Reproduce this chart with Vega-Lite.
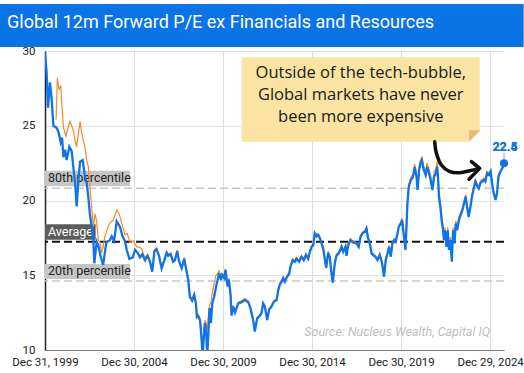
{
  "$schema": "https://vega.github.io/schema/vega-lite/v6.json",
  "padding": {"top": 4, "left": 0, "right": 0, "bottom": 0},
  "background": "white",
  "width": 459,
  "height": 299,
  "config": {"view": {"stroke": null}, "font": "Roboto"},
  "data": {"values": [{"k": 1}]},
  "datasets": {
    "pe": [
      {"d": "1999-12-31", "b": 29.9},
      {"d": "2000-02-03", "b": 28.5},
      {"d": "2000-03-02", "b": 26.2},
      {"d": "2000-04-11", "b": 27.9},
      {"d": "2000-05-17", "b": 26.7},
      {"d": "2000-06-20", "b": 25.0},
      {"d": "2000-08-14", "o": 25.4},
      {"d": "2000-08-28", "b": 24.85},
      {"d": "2000-09-09", "o": 28.2},
      {"d": "2000-10-01", "b": 24.6},
      {"d": "2000-10-15", "o": 27.4},
      {"d": "2000-11-17", "b": 23.9, "o": 27.7},
      {"d": "2000-12-10", "o": 26.5},
      {"d": "2000-12-16", "b": 24.2},
      {"d": "2001-01-11", "b": 22.9, "o": 24.9},
      {"d": "2001-02-16", "b": 23.4},
      {"d": "2001-03-04", "o": 24.3},
      {"d": "2001-03-19", "b": 22.7},
      {"d": "2001-04-21", "o": 24.9},
      {"d": "2001-05-13", "b": 23.6},
      {"d": "2001-05-28", "o": 25.3},
      {"d": "2001-06-30", "b": 23.3, "o": 25.0},
      {"d": "2001-08-02", "b": 22.26, "o": 24.7},
      {"d": "2001-09-08", "b": 21.2, "o": 24.0},
      {"d": "2001-10-10", "b": 19.6, "o": 23.6},
      {"d": "2001-11-16", "b": 21.4, "o": 24.5},
      {"d": "2001-12-19", "b": 22.6, "o": 25.3},
      {"d": "2002-01-23", "o": 24.5},
      {"d": "2002-02-11", "b": 22.7},
      {"d": "2002-02-25", "o": 24.0},
      {"d": "2002-03-29", "b": 21.6, "o": 23.6},
      {"d": "2002-05-04", "b": 21.2, "o": 22.7},
      {"d": "2002-06-06", "b": 20.25, "o": 22.26},
      {"d": "2002-07-08", "b": 19.1, "o": 20.9},
      {"d": "2002-08-14", "b": 18.25, "o": 19.6},
      {"d": "2002-09-17", "b": 17.35, "o": 18.25},
      {"d": "2002-10-08", "b": 15.8},
      {"d": "2002-10-23", "o": 19.1},
      {"d": "2002-11-25", "b": 17.25, "o": 18.6},
      {"d": "2002-12-28", "b": 17.0, "o": 17.35},
      {"d": "2003-02-03", "o": 17.2},
      {"d": "2003-02-17", "b": 16.2},
      {"d": "2003-03-05", "o": 16.5},
      {"d": "2003-04-07", "b": 15.7, "o": 16.9},
      {"d": "2003-05-11", "b": 16.5, "o": 17.6},
      {"d": "2003-06-11", "b": 17.2},
      {"d": "2003-07-18", "o": 18.25},
      {"d": "2003-08-24", "b": 17.35, "o": 18.5},
      {"d": "2003-09-30", "b": 17.6},
      {"d": "2003-11-03", "o": 18.7},
      {"d": "2003-11-17", "b": 17.3},
      {"d": "2004-01-10", "b": 18.6, "o": 19.36},
      {"d": "2004-03-01", "o": 19.1},
      {"d": "2004-03-15", "b": 18.25},
      {"d": "2004-04-21", "o": 18.5},
      {"d": "2004-05-09", "b": 17.6},
      {"d": "2004-06-26", "b": 17.3, "o": 17.7},
      {"d": "2004-08-02", "b": 16.7},
      {"d": "2004-08-12", "o": 17.8},
      {"d": "2004-09-26", "b": 16.1},
      {"d": "2004-10-10", "o": 17.2},
      {"d": "2004-12-04", "b": 16.2},
      {"d": "2004-12-15", "o": 17.3},
      {"d": "2005-01-20", "b": 16.7},
      {"d": "2005-02-22", "o": 16.9},
      {"d": "2005-03-14", "b": 16.5},
      {"d": "2005-04-01", "o": 16.9},
      {"d": "2005-05-01", "b": 16.2},
      {"d": "2005-06-05", "o": 16.8},
      {"d": "2005-06-18", "b": 16.4, "o": 16.6},
      {"d": "2005-08-11", "b": 16.0, "o": 16.2},
      {"d": "2005-10-05", "b": 16.3, "o": 16.4},
      {"d": "2005-11-22", "b": 15.9, "o": 16.0},
      {"d": "2006-01-08", "b": 15.24, "o": 15.35},
      {"d": "2006-02-21", "b": 16.6, "o": 16.7},
      {"d": "2006-04-08", "b": 16.73, "o": 16.85},
      {"d": "2006-05-26", "b": 16.3, "o": 16.4},
      {"d": "2006-07-19", "b": 15.46, "o": 15.55},
      {"d": "2006-09-13", "b": 16.0, "o": 16.1},
      {"d": "2006-10-31", "b": 16.5, "o": 16.6},
      {"d": "2006-12-02", "b": 16.3, "o": 16.4},
      {"d": "2007-01-20", "b": 16.4, "o": 16.5},
      {"d": "2007-03-11", "b": 15.9, "o": 16.0},
      {"d": "2007-04-17", "b": 16.0, "o": 16.1},
      {"d": "2007-06-04", "b": 16.6, "o": 16.7},
      {"d": "2007-07-13", "b": 15.9, "o": 16.0},
      {"d": "2007-09-04", "b": 15.46, "o": 15.55},
      {"d": "2007-10-25", "b": 16.1, "o": 16.2},
      {"d": "2007-12-14", "b": 15.24, "o": 15.3},
      {"d": "2008-01-16", "b": 14.68, "o": 14.8},
      {"d": "2008-02-18", "b": 13.56, "o": 13.7},
      {"d": "2008-04-05", "b": 13.3, "o": 13.4},
      {"d": "2008-05-18", "b": 13.68, "o": 13.8},
      {"d": "2008-06-21", "b": 13.1, "o": 13.2},
      {"d": "2008-07-12", "b": 12.2, "o": 12.35},
      {"d": "2008-08-07", "b": 12.25, "o": 12.4},
      {"d": "2008-09-13", "b": 12.0, "o": 12.15},
      {"d": "2008-10-01", "b": 11.34, "o": 11.6},
      {"d": "2008-10-16", "b": 10.67, "o": 11.0},
      {"d": "2008-11-07", "b": 9.6, "o": 10.3},
      {"d": "2008-12-03", "b": 11.0, "o": 11.4},
      {"d": "2008-12-24", "b": 11.8, "o": 12.0},
      {"d": "2009-01-15", "b": 11.2, "o": 11.8},
      {"d": "2009-02-10", "b": 9.7, "o": 11.3},
      {"d": "2009-03-02", "b": 11.0, "o": 12.2},
      {"d": "2009-03-28", "b": 12.8, "o": 13.0},
      {"d": "2009-04-26", "b": 11.8, "o": 13.2},
      {"d": "2009-05-22", "b": 13.1, "o": 13.8},
      {"d": "2009-06-30", "b": 13.56, "o": 14.4},
      {"d": "2009-08-06", "b": 14.2, "o": 15.0},
      {"d": "2009-09-09", "b": 14.68, "o": 15.1},
      {"d": "2009-10-11", "b": 15.13, "o": 15.3},
      {"d": "2009-11-17", "b": 14.68, "o": 14.8},
      {"d": "2009-12-12", "b": 15.02, "o": 15.1},
      {"d": "2010-01-26", "b": 14.8, "o": 14.9},
      {"d": "2010-02-18", "b": 15.35, "o": 15.45},
      {"d": "2010-04-03", "b": 14.24, "o": 14.35},
      {"d": "2010-04-29", "b": 14.7, "o": 14.8},
      {"d": "2010-06-04", "b": 13.6, "o": 13.7},
      {"d": "2010-06-22", "b": 12.3, "o": 12.4},
      {"d": "2010-07-26", "b": 12.9, "o": 13.0},
      {"d": "2010-09-01", "b": 12.5, "o": 12.6},
      {"d": "2010-11-05", "b": 13.1, "o": 13.2},
      {"d": "2011-01-16", "b": 13.2, "o": 13.3},
      {"d": "2011-03-21", "b": 13.34, "o": 13.45},
      {"d": "2011-05-30", "b": 13.2, "o": 13.3},
      {"d": "2011-07-15", "b": 12.8, "o": 12.9},
      {"d": "2011-09-09", "b": 12.0, "o": 12.1},
      {"d": "2011-10-12", "b": 11.23, "o": 11.35},
      {"d": "2011-11-29", "b": 12.1, "o": 12.2},
      {"d": "2012-01-11", "b": 12.23, "o": 12.3},
      {"d": "2012-02-27", "b": 12.45, "o": 12.55},
      {"d": "2012-03-31", "b": 13.1, "o": 13.2},
      {"d": "2012-05-06", "b": 12.9, "o": 13.0},
      {"d": "2012-06-23", "b": 12.0, "o": 12.1},
      {"d": "2012-08-02", "b": 12.7, "o": 12.8},
      {"d": "2012-09-19", "b": 12.9, "o": 13.0},
      {"d": "2012-11-06", "b": 13.23, "o": 13.3},
      {"d": "2013-01-03", "b": 13.34, "o": 13.45},
      {"d": "2013-02-05", "b": 14.0, "o": 14.1},
      {"d": "2013-03-07", "b": 14.35, "o": 14.45},
      {"d": "2013-04-13", "b": 14.57, "o": 14.65},
      {"d": "2013-05-17", "b": 14.8, "o": 14.9},
      {"d": "2013-06-18", "b": 14.57, "o": 14.65},
      {"d": "2013-08-05", "b": 14.9, "o": 15.0},
      {"d": "2013-09-18", "b": 15.1, "o": 15.2},
      {"d": "2013-10-13", "b": 15.57, "o": 15.65},
      {"d": "2013-11-27", "b": 16.0, "o": 16.1},
      {"d": "2014-01-13", "b": 15.9, "o": 16.0},
      {"d": "2014-02-13", "b": 16.1, "o": 16.2},
      {"d": "2014-04-09", "b": 15.9, "o": 16.0},
      {"d": "2014-05-27", "b": 16.24, "o": 16.3},
      {"d": "2014-07-12", "b": 16.0, "o": 16.1},
      {"d": "2014-08-27", "b": 16.35, "o": 16.45},
      {"d": "2014-10-12", "b": 16.1, "o": 16.2},
      {"d": "2014-11-15", "b": 16.57, "o": 16.65},
      {"d": "2014-12-21", "b": 16.9, "o": 17.0},
      {"d": "2015-01-23", "b": 17.0, "o": 17.1},
      {"d": "2015-02-23", "b": 17.8, "o": 17.9},
      {"d": "2015-04-01", "b": 17.6, "o": 17.7},
      {"d": "2015-05-03", "b": 17.7, "o": 17.8},
      {"d": "2015-06-06", "b": 17.5, "o": 17.6},
      {"d": "2015-07-11", "b": 17.13, "o": 17.2},
      {"d": "2015-08-15", "b": 16.8, "o": 16.9},
      {"d": "2015-09-20", "b": 16.0, "o": 16.1},
      {"d": "2015-10-16", "b": 15.5, "o": 15.6},
      {"d": "2015-11-25", "b": 16.5, "o": 16.6},
      {"d": "2015-12-30", "b": 16.2, "o": 16.3},
      {"d": "2016-01-25", "b": 15.3, "o": 15.4},
      {"d": "2016-02-29", "b": 14.5, "o": 14.6},
      {"d": "2016-04-09", "b": 15.8, "o": 15.9},
      {"d": "2016-05-13", "b": 16.3, "o": 16.4},
      {"d": "2016-07-06", "b": 16.5, "o": 16.6},
      {"d": "2016-08-27", "b": 16.9, "o": 17.0},
      {"d": "2016-09-29", "b": 16.57, "o": 16.65},
      {"d": "2016-11-15", "b": 16.9, "o": 17.0},
      {"d": "2016-12-07", "b": 16.3, "o": 16.4},
      {"d": "2017-01-09", "b": 17.0, "o": 17.1},
      {"d": "2017-02-23", "b": 17.35, "o": 17.45},
      {"d": "2017-04-19", "b": 17.2, "o": 17.3},
      {"d": "2017-06-28", "b": 17.13, "o": 17.2},
      {"d": "2017-08-12", "b": 16.9, "o": 17.0},
      {"d": "2017-09-20", "b": 17.58, "o": 17.65},
      {"d": "2017-10-31", "b": 17.8, "o": 17.9},
      {"d": "2017-12-17", "b": 17.9, "o": 18.0},
      {"d": "2018-01-19", "b": 18.13, "o": 18.2},
      {"d": "2018-02-19", "b": 17.5, "o": 17.6},
      {"d": "2018-03-28", "b": 17.13, "o": 17.2},
      {"d": "2018-05-04", "b": 16.46, "o": 16.55},
      {"d": "2018-06-06", "b": 16.35, "o": 16.45},
      {"d": "2018-07-23", "b": 16.24, "o": 16.3},
      {"d": "2018-09-01", "b": 16.02, "o": 16.1},
      {"d": "2018-10-19", "b": 16.35, "o": 16.45},
      {"d": "2018-12-05", "b": 15.8, "o": 15.9},
      {"d": "2019-01-14", "b": 14.9, "o": 15.0},
      {"d": "2019-02-18", "b": 16.0, "o": 16.1},
      {"d": "2019-03-27", "b": 16.46, "o": 16.55},
      {"d": "2019-04-28", "b": 16.9, "o": 17.0},
      {"d": "2019-06-01", "b": 16.24, "o": 16.3},
      {"d": "2019-07-06", "b": 17.13, "o": 17.2},
      {"d": "2019-08-10", "b": 17.35, "o": 17.45},
      {"d": "2019-09-11", "b": 17.24, "o": 17.3},
      {"d": "2019-10-18", "b": 17.8, "o": 17.9},
      {"d": "2019-11-12", "b": 18.24, "o": 18.35},
      {"d": "2019-12-25", "b": 18.46, "o": 18.55},
      {"d": "2020-01-20", "b": 18.7, "o": 18.8},
      {"d": "2020-02-20", "b": 17.8, "o": 17.9},
      {"d": "2020-03-28", "b": 16.7, "o": 16.8},
      {"d": "2020-04-19", "b": 18.24, "o": 18.4},
      {"d": "2020-05-08", "b": 19.8, "o": 19.95},
      {"d": "2020-06-06", "b": 20.92, "o": 21.1},
      {"d": "2020-07-16", "b": 21.37, "o": 21.55},
      {"d": "2020-08-19", "b": 21.5, "o": 21.7},
      {"d": "2020-09-16", "b": 21.82, "o": 22.0},
      {"d": "2020-10-04", "b": 22.25, "o": 22.45},
      {"d": "2020-11-10", "b": 21.6, "o": 21.8},
      {"d": "2020-12-02", "b": 20.7, "o": 20.9},
      {"d": "2021-01-03", "b": 22.04, "o": 22.25},
      {"d": "2021-01-29", "b": 22.49, "o": 22.7},
      {"d": "2021-03-01", "b": 22.7, "o": 22.9},
      {"d": "2021-04-07", "b": 22.04, "o": 22.25},
      {"d": "2021-05-18", "b": 21.7, "o": 21.95},
      {"d": "2021-06-15", "b": 22.26, "o": 22.5},
      {"d": "2021-07-26", "b": 21.8, "o": 22.1},
      {"d": "2021-08-28", "b": 21.37, "o": 21.65},
      {"d": "2021-10-03", "b": 20.7, "o": 20.95},
      {"d": "2021-11-06", "b": 21.6, "o": 21.9},
      {"d": "2021-12-12", "b": 21.8, "o": 22.1},
      {"d": "2022-01-07", "b": 22.26, "o": 22.6},
      {"d": "2022-01-28", "b": 21.4, "o": 21.7},
      {"d": "2022-02-14", "b": 20.25, "o": 20.55},
      {"d": "2022-03-15", "b": 19.58, "o": 19.85},
      {"d": "2022-04-10", "b": 18.7, "o": 18.95},
      {"d": "2022-05-09", "b": 18.0, "o": 18.25},
      {"d": "2022-05-28", "b": 17.35, "o": 17.6},
      {"d": "2022-06-18", "b": 18.0, "o": 18.2},
      {"d": "2022-07-18", "b": 16.9, "o": 17.1},
      {"d": "2022-08-13", "b": 18.0, "o": 18.2},
      {"d": "2022-09-07", "b": 16.7, "o": 16.9},
      {"d": "2022-10-07", "b": 17.35, "o": 17.55},
      {"d": "2022-11-05", "b": 15.9, "o": 16.1},
      {"d": "2022-11-30", "b": 18.0, "o": 18.2},
      {"d": "2022-12-29", "b": 17.13, "o": 17.3},
      {"d": "2023-01-24", "b": 18.46, "o": 18.65},
      {"d": "2023-02-20", "b": 18.0, "o": 18.2},
      {"d": "2023-04-01", "b": 18.7, "o": 18.9},
      {"d": "2023-05-05", "b": 19.03, "o": 19.2},
      {"d": "2023-06-10", "b": 19.35, "o": 19.5},
      {"d": "2023-07-13", "b": 19.8, "o": 19.95},
      {"d": "2023-08-16", "b": 20.25, "o": 20.4},
      {"d": "2023-09-13", "b": 19.58, "o": 19.75},
      {"d": "2023-10-17", "b": 18.9, "o": 19.05},
      {"d": "2023-11-22", "b": 19.58, "o": 19.75},
      {"d": "2023-12-23", "b": 20.25, "o": 20.4},
      {"d": "2024-01-29", "b": 20.8, "o": 20.95},
      {"d": "2024-03-02", "b": 21.26, "o": 21.4},
      {"d": "2024-04-03", "b": 21.0, "o": 21.15},
      {"d": "2024-05-10", "b": 20.8, "o": 20.95},
      {"d": "2024-06-11", "b": 21.15, "o": 21.3},
      {"d": "2024-07-15", "b": 21.26, "o": 21.4},
      {"d": "2024-08-21", "b": 21.37, "o": 21.5},
      {"d": "2024-09-22", "b": 21.26, "o": 21.4},
      {"d": "2024-10-26", "b": 21.82, "o": 21.95},
      {"d": "2024-12-08", "b": 21.7, "o": 21.85},
      {"d": "2025-01-10", "b": 21.93, "o": 22.05},
      {"d": "2025-02-06", "b": 21.15, "o": 21.3},
      {"d": "2025-03-11", "b": 20.5, "o": 20.6},
      {"d": "2025-04-20", "b": 20.03, "o": 20.15},
      {"d": "2025-05-20", "b": 20.5, "o": 20.6},
      {"d": "2025-06-19", "b": 21.6, "o": 21.7},
      {"d": "2025-07-14", "b": 21.82, "o": 21.9},
      {"d": "2025-08-16", "b": 22.04, "o": 22.1},
      {"d": "2025-09-22", "b": 22.26, "o": 22.3},
      {"d": "2025-10-10", "b": 22.49, "o": 22.4}
    ],
    "arrow": [
      {"d": "2021-11-19", "v": 23.93, "i": 1},
      {"d": "2021-12-24", "v": 23.16, "i": 2},
      {"d": "2022-04-05", "v": 22.37, "i": 3},
      {"d": "2022-09-24", "v": 21.93, "i": 4},
      {"d": "2023-04-16", "v": 21.86, "i": 5},
      {"d": "2023-11-07", "v": 21.99, "i": 6},
      {"d": "2024-05-15", "v": 22.15, "i": 7}
    ],
    "head": [
      {"d": "2023-12-12", "v": 22.6, "i": 1},
      {"d": "2024-05-29", "v": 22.15, "i": 2},
      {"d": "2023-10-23", "v": 21.42, "i": 3}
    ]
  },
  "layer": [
    {
      "mark": {"type": "rule", "color": "#c8c8c8", "strokeWidth": 1.5, "strokeDash": [8, 4]},
      "encoding": {"y": {"datum": 20.82}}
    },
    {
      "mark": {"type": "rule", "color": "#c8c8c8", "strokeWidth": 1.5, "strokeDash": [8, 4]},
      "encoding": {"y": {"datum": 14.62}}
    },
    {
      "mark": {"type": "rule", "color": "#111111", "strokeWidth": 2, "strokeDash": [8, 4]},
      "encoding": {"y": {"datum": 17.24}}
    },
    {
      "mark": {"type": "rect", "color": "#c6c6c6", "yOffset": -2, "y2Offset": -17.5},
      "encoding": {
        "x": {"datum": {"year": 1999, "month": 12, "date": 31}},
        "x2": {"datum": {"year": 2004, "month": 10, "date": 8}},
        "y": {"datum": 20.82},
        "y2": {"datum": 20.82}
      }
    },
    {
      "mark": {"type": "rect", "color": "#c6c6c6", "yOffset": -2, "y2Offset": -17},
      "encoding": {
        "x": {"datum": {"year": 1999, "month": 12, "date": 31}},
        "x2": {"datum": {"year": 2004, "month": 10, "date": 8}},
        "y": {"datum": 14.62},
        "y2": {"datum": 14.62}
      }
    },
    {
      "mark": {"type": "rect", "color": "#5c5c5c", "yOffset": -2, "y2Offset": -17.5},
      "encoding": {
        "x": {"datum": {"year": 1999, "month": 12, "date": 31}},
        "x2": {"datum": {"year": 2002, "month": 11, "date": 4}},
        "y": {"datum": 17.24},
        "y2": {"datum": 17.24}
      }
    },
    {
      "mark": {"type": "text", "text": "80th percentile", "align": "left", "baseline": "middle", "dx": 3, "dy": -10, "fontSize": 12.5, "color": "#222222", "font": "Roboto"},
      "encoding": {"x": {"datum": {"year": 1999, "month": 12, "date": 31}}, "y": {"datum": 20.82}}
    },
    {
      "mark": {"type": "text", "text": "20th percentile", "align": "left", "baseline": "middle", "dx": 3, "dy": -10, "fontSize": 12.5, "color": "#222222", "font": "Roboto"},
      "encoding": {"x": {"datum": {"year": 1999, "month": 12, "date": 31}}, "y": {"datum": 14.62}}
    },
    {
      "mark": {"type": "text", "text": "Average", "align": "left", "baseline": "middle", "dx": 3, "dy": -10, "fontSize": 12.5, "color": "white", "font": "Roboto"},
      "encoding": {"x": {"datum": {"year": 1999, "month": 12, "date": 31}}, "y": {"datum": 17.24}}
    },
    {
      "data": {"name": "pe"},
      "mark": {"type": "line", "color": "#f5892b", "strokeWidth": 1.2, "clip": true, "invalid": "filter"},
      "encoding": {
        "x": {
          "field": "d", "type": "temporal", "title": null,
          "scale": {"domain": [{"year": 1999, "month": 12, "date": 31}, {"year": 2025, "month": 10, "date": 10}], "nice": false},
          "axis": {
            "values": [
              {"year": 1999, "month": 12, "date": 31},
              {"year": 2004, "month": 12, "date": 30},
              {"year": 2009, "month": 12, "date": 30},
              {"year": 2014, "month": 12, "date": 30},
              {"year": 2019, "month": 12, "date": 30},
              {"year": 2024, "month": 12, "date": 29}
            ],
            "format": "%b %d, %Y",
            "labelFont": "Roboto",
            "labelFontSize": 11.5,
            "labelColor": "#222222",
            "labelPadding": 6,
            "labelOverlap": false,
            "labelFlush": false,
            "tickSize": 0,
            "domainColor": "#777777",
            "domainWidth": 1.2,
            "grid": true,
            "gridColor": "#dddddd"
          }
        },
        "y": {
          "field": "o", "type": "quantitative", "title": null,
          "scale": {"domain": [10, 30], "nice": false, "zero": false},
          "axis": {
            "values": [10, 12.5, 15, 17.5, 20, 22.5, 25, 27.5, 30],
            "labelExpr": "datum.value % 5 === 0 ? datum.label : ''",
            "labelFont": "Roboto",
            "labelFontSize": 11.5,
            "labelColor": "#222222",
            "labelPadding": 10,
            "tickSize": 0,
            "minExtent": 45,
            "maxExtent": 45,
            "domainColor": "#222222",
            "domainWidth": 1.5,
            "grid": true,
            "gridColor": "#e0e0e0"
          }
        }
      }
    },
    {
      "data": {"name": "pe"},
      "mark": {"type": "line", "color": "#0f74e8", "strokeWidth": 2.3, "clip": true, "invalid": "filter"},
      "encoding": {
        "x": {"field": "d", "type": "temporal", "title": null},
        "y": {"field": "b", "type": "quantitative", "title": null}
      }
    },
    {
      "mark": {"type": "rule", "color": "#9a9a9a", "strokeWidth": 1},
      "encoding": {
        "x": {"datum": {"year": 2025, "month": 10, "date": 10}},
        "y": {"datum": 22.75},
        "y2": {"datum": 23.15}
      }
    },
    {
      "mark": {"type": "point", "filled": true, "size": 65, "color": "#0f74e8", "opacity": 1},
      "encoding": {
        "x": {"datum": {"year": 2025, "month": 10, "date": 10}},
        "y": {"datum": 22.49}
      }
    },
    {
      "mark": {"type": "text", "text": "22.4", "align": "center", "baseline": "middle", "dy": -16.5, "dx": 1, "fontSize": 12.5, "fontWeight": "bold", "color": "#0f74e8", "font": "Roboto"},
      "encoding": {
        "x": {"datum": {"year": 2025, "month": 10, "date": 10}},
        "y": {"datum": 22.49}
      }
    },
    {
      "mark": {"type": "text", "text": "22.5", "align": "center", "baseline": "middle", "dy": -16.5, "dx": 1, "fontSize": 12.5, "fontWeight": "bold", "color": "#0f74e8", "font": "Roboto"},
      "encoding": {
        "x": {"datum": {"year": 2025, "month": 10, "date": 10}},
        "y": {"datum": 22.49}
      }
    },
    {
      "mark": {"type": "rect", "color": "#fbe3a1"},
      "encoding": {
        "x": {"datum": {"year": 2011, "month": 1, "date": 15}},
        "x2": {"datum": {"year": 2024, "month": 5, "date": 29}},
        "y": {"datum": 29.58},
        "y2": {"datum": 23.93}
      }
    },
    {
      "mark": {"type": "point", "filled": true, "opacity": 1, "size": 130, "color": "white", "shape": "M 1 -1 L 1 1 L -1 1 Z"},
      "encoding": {
        "x": {"datum": {"year": 2024, "month": 2, "date": 17}},
        "y": {"datum": 24.31}
      }
    },
    {
      "mark": {"type": "point", "filled": true, "opacity": 1, "size": 130, "color": "#dcc07a", "shape": "M 1 -1 L -1 1 L -1 -1 Z"},
      "encoding": {
        "x": {"datum": {"year": 2024, "month": 2, "date": 17}},
        "y": {"datum": 24.31}
      }
    },
    {
      "mark": {"type": "text", "text": ["Outside of the tech-bubble,", "Global markets have never", "been more expensive"], "align": "center", "baseline": "middle", "lineHeight": 22, "fontSize": 16.5, "color": "#1a1a1a", "font": "Open Sans"},
      "encoding": {
        "x": {"datum": {"year": 2017, "month": 9, "date": 24}},
        "y": {"datum": 28.55}
      }
    },
    {
      "data": {"name": "arrow"},
      "mark": {"type": "line", "color": "#111111", "strokeWidth": 3.5, "strokeCap": "round", "interpolate": "cardinal"},
      "encoding": {
        "x": {"field": "d", "type": "temporal", "title": null},
        "y": {"field": "v", "type": "quantitative", "title": null},
        "order": {"field": "i", "type": "quantitative"}
      }
    },
    {
      "data": {"name": "head"},
      "mark": {"type": "line", "color": "#111111", "strokeWidth": 3.5, "strokeCap": "round", "strokeJoin": "round"},
      "encoding": {
        "x": {"field": "d", "type": "temporal", "title": null},
        "y": {"field": "v", "type": "quantitative", "title": null},
        "order": {"field": "i", "type": "quantitative"}
      }
    },
    {
      "mark": {"type": "text", "text": "Source: Nucleus Wealth, Capital IQ", "align": "right", "baseline": "middle", "fontSize": 12.5, "fontStyle": "italic", "color": "#bdbdbd", "font": "Roboto"},
      "encoding": {
        "x": {"datum": {"year": 2024, "month": 12, "date": 29}},
        "y": {"datum": 11.2}
      }
    },
    {
      "mark": {"type": "rect", "color": "#0a73e6"},
      "encoding": {
        "x": {"datum": {"year": 1997, "month": 6, "date": 21}},
        "x2": {"datum": {"year": 2026, "month": 11, "date": 17}},
        "y": {"datum": 33.14},
        "y2": {"datum": 30.27}
      }
    },
    {
      "mark": {"type": "text", "text": "Global 12m Forward P/E ex Financials and Resources", "align": "left", "baseline": "alphabetic", "fontSize": 18, "color": "white", "font": "Roboto"},
      "encoding": {
        "x": {"datum": {"year": 1997, "month": 11, "date": 13}},
        "y": {"datum": 31.52}
      }
    }
  ]
}
